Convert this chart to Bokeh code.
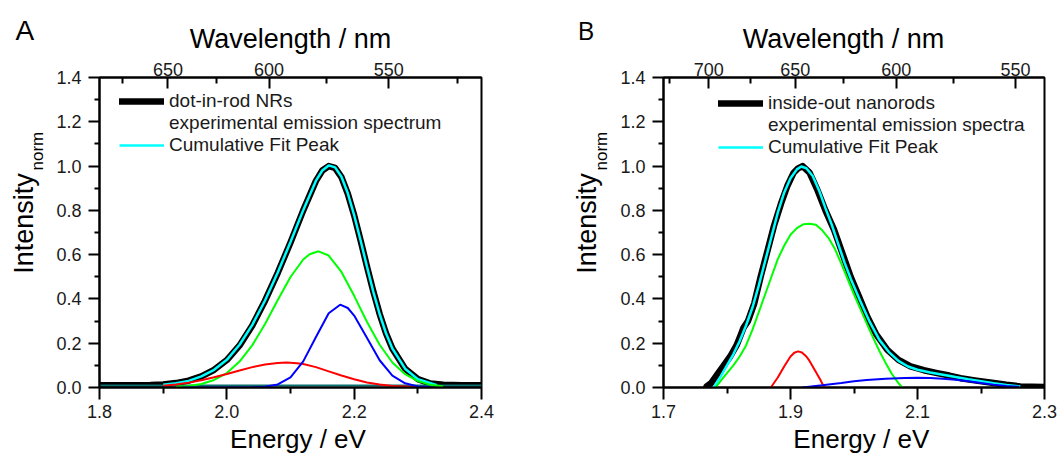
import math
from bokeh.plotting import figure
from bokeh.models import (LinearAxis, FixedTicker, NumeralTickFormatter, CustomJSTickFormatter,
                          Label, Legend, LegendItem, Range1d)
from bokeh.layouts import row, column
from bokeh.embed import file_html
from bokeh.resources import INLINE

FONT = "Liberation Sans"
HC = 1239.84  # eV*nm, for the wavelength axis

# ---------------- Panel A data (energy eV, normalized intensity) ----------------
A_black_E = [1.80, 1.85, 1.88, 1.90, 1.92, 1.94, 1.96, 1.98, 2.00, 2.02, 2.04, 2.06, 2.08, 2.10,
             2.12, 2.14, 2.15, 2.16, 2.17, 2.18, 2.19, 2.20, 2.21, 2.22, 2.23, 2.24, 2.25, 2.26,
             2.28, 2.30, 2.32, 2.34, 2.37, 2.40]
A_black_I = [0.010, 0.010, 0.011, 0.014, 0.020, 0.031, 0.050, 0.080, 0.124, 0.190, 0.280, 0.392,
             0.518, 0.655, 0.800, 0.933, 0.980, 1.000, 0.992, 0.950, 0.875, 0.778, 0.665, 0.548,
             0.435, 0.332, 0.245, 0.176, 0.085, 0.038, 0.018, 0.012, 0.010, 0.010]
A_base_E = [1.80, 2.40]
A_base_I = [0.009, 0.009]
A_fit_E = [1.90, 1.92, 1.94, 1.96, 1.98, 2.00, 2.02, 2.04, 2.06, 2.08, 2.10, 2.12, 2.14, 2.15,
           2.16, 2.17, 2.18, 2.19, 2.20, 2.21, 2.22, 2.23, 2.24, 2.25, 2.26, 2.28, 2.30, 2.33]
A_fit_I = [0.012, 0.019, 0.030, 0.050, 0.080, 0.125, 0.193, 0.283, 0.393, 0.519, 0.657, 0.801,
           0.934, 0.980, 1.003, 0.994, 0.952, 0.877, 0.778, 0.665, 0.547, 0.433, 0.332, 0.245,
           0.176, 0.085, 0.037, 0.010]
A_green_E = [1.92, 1.94, 1.96, 1.98, 2.00, 2.02, 2.04, 2.06, 2.08, 2.10, 2.12, 2.13, 2.144, 2.16,
             2.18, 2.20, 2.22, 2.24, 2.26, 2.28, 2.30, 2.32, 2.34]
A_green_I = [0.003, 0.007, 0.016, 0.034, 0.065, 0.117, 0.191, 0.287, 0.395, 0.499, 0.578, 0.602,
             0.615, 0.596, 0.522, 0.414, 0.297, 0.193, 0.113, 0.060, 0.029, 0.012, 0.004]
A_blue_E = [1.93, 2.04, 2.06, 2.08, 2.10, 2.12, 2.14, 2.16, 2.178, 2.19, 2.20, 2.22, 2.24, 2.26,
            2.28, 2.30, 2.32]
A_blue_I = [0.000, 0.001, 0.003, 0.014, 0.046, 0.118, 0.228, 0.335, 0.374, 0.359, 0.325, 0.225,
            0.123, 0.054, 0.019, 0.005, 0.001]
A_red_E = [1.90, 1.92, 1.94, 1.96, 1.98, 2.00, 2.02, 2.04, 2.06, 2.08, 2.094, 2.11, 2.12, 2.14,
           2.16, 2.18, 2.20, 2.22, 2.24, 2.26, 2.28, 2.30]
A_red_I = [0.008, 0.014, 0.022, 0.033, 0.046, 0.061, 0.077, 0.092, 0.104, 0.111, 0.113, 0.110,
           0.106, 0.092, 0.073, 0.054, 0.037, 0.023, 0.014, 0.007, 0.004, 0.001]

# ---------------- Panel B data ----------------
B_black_E = [1.768, 1.775, 1.785, 1.795, 1.805, 1.815, 1.822, 1.826, 1.833, 1.843, 1.853, 1.864,
             1.874, 1.885, 1.895, 1.905, 1.912, 1.919, 1.930, 1.942, 1.955, 1.9685, 1.980,
             1.9947, 2.008, 2.021, 2.035, 2.0525, 2.070, 2.089, 2.110, 2.131, 2.150, 2.168,
             2.190, 2.220, 2.240, 2.262, 2.280, 2.300]
B_black_I = [0.005, 0.020, 0.060, 0.100, 0.140, 0.190, 0.240, 0.270, 0.300, 0.380, 0.500, 0.620,
             0.730, 0.830, 0.910, 0.970, 0.990, 1.000, 0.970, 0.895, 0.800, 0.713, 0.620, 0.500,
             0.410, 0.320, 0.240, 0.170, 0.125, 0.095, 0.078, 0.065, 0.054, 0.042, 0.032, 0.020,
             0.012, 0.005, 0.003, 0.002]
B_fit_E = [1.779, 1.79, 1.80, 1.81, 1.82, 1.83, 1.84, 1.85, 1.86, 1.87, 1.88, 1.89, 1.90, 1.91,
           1.917, 1.925, 1.935, 1.945, 1.955, 1.965, 1.975, 1.985, 1.995, 2.01, 2.025, 2.04,
           2.055, 2.07, 2.085, 2.10, 2.12, 2.14, 2.16, 2.18, 2.20, 2.22, 2.24, 2.262]
B_fit_I = [0.000, 0.050, 0.100, 0.150, 0.210, 0.280, 0.360, 0.460, 0.570, 0.680, 0.790, 0.880,
           0.945, 0.985, 0.998, 0.990, 0.955, 0.890, 0.810, 0.735, 0.650, 0.565, 0.490, 0.390,
           0.295, 0.215, 0.160, 0.120, 0.095, 0.080, 0.068, 0.058, 0.047, 0.037, 0.028, 0.019,
           0.011, 0.004]
B_green_E = [1.782, 1.79, 1.80, 1.81, 1.82, 1.83, 1.84, 1.85, 1.86, 1.87, 1.88, 1.89, 1.90, 1.91,
             1.92, 1.93, 1.94, 1.95, 1.96, 1.97, 1.98, 1.99, 2.00, 2.01, 2.02, 2.03, 2.04, 2.05,
             2.06, 2.07, 2.076]
B_green_I = [0.000, 0.030, 0.065, 0.100, 0.140, 0.190, 0.260, 0.340, 0.420, 0.500, 0.580, 0.640,
             0.690, 0.720, 0.737, 0.740, 0.735, 0.710, 0.675, 0.625, 0.560, 0.490, 0.420, 0.355,
             0.290, 0.225, 0.165, 0.110, 0.060, 0.020, 0.000]
B_red_E = [1.869, 1.875, 1.88, 1.89, 1.90, 1.906, 1.912, 1.918, 1.925, 1.93, 1.935, 1.94, 1.947,
           1.953]
B_red_I = [0.000, 0.025, 0.045, 0.095, 0.140, 0.157, 0.163, 0.158, 0.140, 0.120, 0.095, 0.070,
           0.035, 0.000]
B_blue_E = [1.919, 1.95, 1.98, 2.00, 2.02, 2.05, 2.08, 2.10, 2.12, 2.14, 2.16, 2.18, 2.20, 2.22,
            2.24, 2.26]
B_blue_I = [0.000, 0.010, 0.020, 0.028, 0.034, 0.040, 0.043, 0.044, 0.043, 0.040, 0.035, 0.028,
            0.020, 0.013, 0.007, 0.003]

# ---------------- ticks ----------------
Y_MAJOR = [0.0, 0.2, 0.4, 0.6, 0.8, 1.0, 1.2, 1.4]
Y_MINOR = [0.1, 0.3, 0.5, 0.7, 0.9, 1.1, 1.3]
A_X_MAJOR = [1.8, 2.0, 2.2, 2.4]
A_X_MINOR = [1.9, 2.1, 2.3]
B_X_MAJOR = [1.7, 1.9, 2.1, 2.3]
B_X_MINOR = [1.8, 2.0, 2.2]
A_WL_MAJOR = [650, 600, 550]
A_WL_MINOR = [675, 625, 575, 525]
B_WL_MAJOR = [700, 650, 600, 550]
B_WL_MINOR = [725, 675, 625, 575]

LEGEND_A = ["dot-in-rod NRs", "experimental emission spectrum", "Cumulative Fit Peak"]
LEGEND_B = ["inside-out nanorods", "experimental emission spectra", "Cumulative Fit Peak"]

# layout (px)
TOP_B, FRAME_H, BOT_B = 23, 310, 38
HEADER_H = 54
MAIN_H = TOP_B + FRAME_H + BOT_B
FOOTER_H = 29
FRAME_BOTTOM = HEADER_H + TOP_B + FRAME_H  # page y of the x axis
FOOTER_TOP = HEADER_H + MAIN_H


def style_axis(ax):
    ax.axis_line_width = 2
    ax.axis_line_color = "black"
    ax.major_tick_line_width = 2
    ax.minor_tick_line_width = 2
    ax.major_tick_line_color = "black"
    ax.minor_tick_line_color = "black"
    ax.major_label_text_font = FONT
    ax.major_label_text_font_size = "18px"
    ax.major_label_text_color = "#1a1a1a"


def text_fig(w, h, top=0, bottom=0):
    f = figure(width=w, height=h, x_range=Range1d(0, 1), y_range=Range1d(0, 1),
               x_axis_type=None, y_axis_type=None, toolbar_location=None, output_backend="svg",
               min_border=0, min_border_top=top, min_border_bottom=bottom)
    f.outline_line_color = None
    f.background_fill_color = "white"
    f.border_fill_color = "white"
    return f


def add_text(f, x, y, text, size, font=FONT, align="left", angle=0.0):
    f.add_layout(Label(x=x, y=y, x_units="screen", y_units="screen", text=text,
                       text_font=font, text_font_size=size, text_color="black", angle=angle,
                       text_baseline="alphabetic", text_align=align))


def main_fig(x0, x1, xmaj, xmin, wlmaj, wlmin, data, legend_labels, legend_loc, left, fw, right):
    p = figure(width=left + fw + right, height=MAIN_H,
               x_range=Range1d(x0, x1), y_range=Range1d(0, 1.4),
               toolbar_location=None, output_backend="svg",
               min_border_left=left, min_border_right=right,
               min_border_top=TOP_B, min_border_bottom=BOT_B)
    p.grid.visible = False
    p.outline_line_color = "black"
    p.outline_line_width = 2
    p.background_fill_color = "white"
    p.border_fill_color = "white"

    xa = p.below[0]
    style_axis(xa)
    xa.ticker = FixedTicker(ticks=xmaj, minor_ticks=xmin)
    xa.formatter = NumeralTickFormatter(format="0.0")
    xa.major_tick_out = 12
    xa.major_tick_in = 0
    xa.minor_tick_out = 6
    xa.minor_tick_in = 0
    xa.major_label_standoff = 5

    ya = p.left[0]
    style_axis(ya)
    ya.ticker = FixedTicker(ticks=Y_MAJOR, minor_ticks=Y_MINOR)
    ya.formatter = NumeralTickFormatter(format="0.0")
    ya.major_tick_out = 11
    ya.major_tick_in = 0
    ya.minor_tick_out = 5
    ya.minor_tick_in = 0
    ya.major_label_standoff = 7

    top = LinearAxis(ticker=FixedTicker(ticks=[HC / w for w in wlmaj], minor_ticks=[HC / w for w in wlmin]),
                     formatter=CustomJSTickFormatter(code="return Math.round(1239.84 / tick).toString();"))
    style_axis(top)
    top.major_tick_out = 0
    top.major_tick_in = 11
    top.minor_tick_out = 0
    top.minor_tick_in = 6
    top.major_label_standoff = 2
    p.add_layout(top, "above")

    (bE, bI), (baseE, baseI), (fE, fI), (gE, gI), (rE, rI), (blE, blI) = data
    r_black = p.line(bE, bI, line_color="black", line_width=6.5, line_cap="round", line_join="round")
    if baseE is not None:
        p.line(baseE, baseI, line_color="#0b6f6f", line_width=2)
    r_fit = p.line(fE, fI, line_color="#00ffff", line_width=2.5)
    p.line(gE, gI, line_color="#00ff00", line_width=2)
    p.line(rE, rI, line_color="#ff0000", line_width=2)
    p.line(blE, blI, line_color="#0000ff", line_width=2)
    r_blank = p.line([], [], line_alpha=0)

    legend = Legend(items=[LegendItem(label=legend_labels[0], renderers=[r_black]),
                           LegendItem(label=legend_labels[1], renderers=[r_blank]),
                           LegendItem(label=legend_labels[2], renderers=[r_fit])],
                    location=legend_loc, border_line_alpha=0, background_fill_alpha=0,
                    label_text_font=FONT, label_text_font_size="19px", label_text_color="#1a1a1a",
                    glyph_width=45, glyph_height=22, label_height=22, label_standoff=5,
                    spacing=0, padding=0, margin=0)
    p.add_layout(legend)
    return p


# Label anchors: wanted baselines (page px) shifted by the half-height offset
# that Bokeh applies to text anchored this way.
OFF27, OFF28, OFF17, OFF26 = 9.4, 9.7, 5.9, 10.1

# ---------------- Panel A ----------------
A_W = 528
hA = text_fig(A_W, HEADER_H)
add_text(hA, 15, HEADER_H - 40 + OFF28, "A", "28px")
add_text(hA, 290, HEADER_H - 48.3 + OFF27, "Wavelength / nm", "27px", align="center")
lA = text_fig(50, MAIN_H, top=TOP_B, bottom=BOT_B)
add_text(lA, 32.7 - OFF27, FRAME_BOTTOM - 273.3, "Intensity", "27px", angle=math.pi / 2)
add_text(lA, 43.3 - OFF17, FRAME_BOTTOM - 170, "norm", "17px", angle=math.pi / 2)
mA = main_fig(1.8, 2.4, A_X_MAJOR, A_X_MINOR, A_WL_MAJOR, A_WL_MINOR,
              [(A_black_E, A_black_I), (A_base_E, A_base_I), (A_fit_E, A_fit_I),
               (A_green_E, A_green_I), (A_red_E, A_red_I), (A_blue_E, A_blue_I)],
              LEGEND_A, (20, 231), 49, 382, 47)
fA = text_fig(A_W, FOOTER_H)
add_text(fA, 297.5, FOOTER_H - (448.5 - FOOTER_TOP) + OFF26, "Energy / eV", "26px", align="center")
colA = column(hA, row(lA, mA), fA)

# ---------------- Panel B ----------------
B_W = 530
hB = text_fig(B_W, HEADER_H)
add_text(hB, 49, HEADER_H - 39.5 + OFF26, "B", "26px", font="Open Sans")
add_text(hB, 315, HEADER_H - 48.3 + OFF27, "Wavelength / nm", "27px", align="center")
lB = text_fig(82, MAIN_H, top=TOP_B, bottom=BOT_B)
add_text(lB, 67.5 - OFF27, FRAME_BOTTOM - 273.3, "Intensity", "27px", angle=math.pi / 2)
add_text(lB, 79.3 - OFF17, FRAME_BOTTOM - 170, "norm", "17px", angle=math.pi / 2)
mB = main_fig(1.7, 2.3, B_X_MAJOR, B_X_MINOR, B_WL_MAJOR, B_WL_MINOR,
              [(B_black_E, B_black_I), (None, None), (B_fit_E, B_fit_I),
               (B_green_E, B_green_I), (B_red_E, B_red_I), (B_blue_E, B_blue_I)],
              LEGEND_B, (55, 229), 53, 381, 14)
fB = text_fig(B_W, FOOTER_H)
add_text(fB, 332.8, FOOTER_H - (448.5 - FOOTER_TOP) + OFF26, "Energy / eV", "26px", align="center")
colB = column(hB, row(lB, mB), fB)

layout = row(colA, colB)
open("out.html", "w").write(file_html(layout, INLINE))
